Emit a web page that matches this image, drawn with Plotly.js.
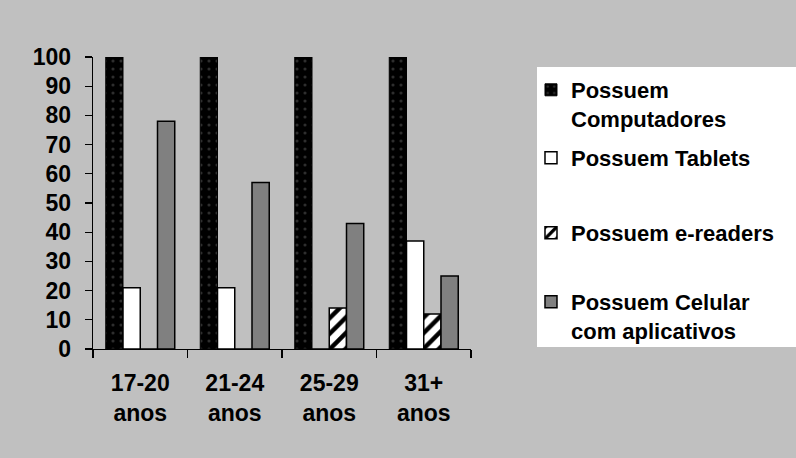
<!DOCTYPE html>
<html><head><meta charset="utf-8">
<script src="https://cdn.plot.ly/plotly-3.0.1.min.js"></script>
<style>html,body{margin:0;padding:0;background:#c0c0c0;}</style>
</head><body>
<div id="chart" style="width:796px;height:458px;"></div>
<script>
const categories = ["17-20<br>anos", "21-24<br>anos", "25-29<br>anos", "31+<br>anos"];
const computadores = [100, 100, 100, 100];
const tablets = [21, 21, 0, 37];
const ereaders = [0, 0, 14, 12];
const celular = [78, 57, 43, 25];
const seriesNames = ["Possuem<br>Computadores", "Possuem Tablets", "Possuem e-readers", "Possuem Celular<br>com aplicativos"];

const FONT = {family: "Liberation Sans, Arial, sans-serif", size: 23, color: "#000", weight: "bold"};
const LFONT = {family: "Liberation Sans, Arial, sans-serif", size: 22, color: "#000", weight: "bold"};

const traces = [
  {type: "bar", x: categories, y: computadores, name: seriesNames[0], legend: "legend",
   marker: {color: "#000", line: {color: "#000", width: 1}, pattern: {shape: ".", fgcolor: "#2e2e2e", bgcolor: "#000", size: 8, solidity: 0.12}}},
  {type: "bar", x: categories, y: tablets, name: seriesNames[1], legend: "legend2",
   marker: {color: "#fff", line: {color: "#000", width: 1.5}}},
  {type: "bar", x: categories, y: ereaders, name: seriesNames[2], legend: "legend3",
   marker: {color: "#fff", line: {color: "#000", width: 1.5}, pattern: {shape: "/", fgcolor: "#000", bgcolor: "#fff", size: 11, solidity: 0.4}}},
  {type: "bar", x: categories, y: celular, name: seriesNames[3], legend: "legend4",
   marker: {color: "#808080", line: {color: "#000", width: 1.5}}}
];

function lg(y, yanchor) {
  return {x: 1.1587, xanchor: "left", y: y, yanchor: yanchor, bgcolor: "rgba(0,0,0,0)", borderwidth: 0,
          font: LFONT, valign: "top", itemclick: false, itemdoubleclick: false};
}

const layout = {
  width: 796, height: 458,
  margin: {l: 93, r: 325, t: 57, b: 109, pad: 0},
  paper_bgcolor: "#c0c0c0", plot_bgcolor: "#c0c0c0",
  font: FONT,
  barmode: "group", bargap: 0.27, bargroupgap: 0,
  xaxis: {type: "category", range: [-0.5, 3.5], showline: true, linecolor: "#000", linewidth: 1.3,
          ticks: "outside", tickson: "boundaries", ticklen: 8, tickwidth: 1.3, tickcolor: "#000",
          ticklabelstandoff: 13,
          showgrid: false, zeroline: false, tickfont: FONT, fixedrange: true},
  yaxis: {range: [0, 100], dtick: 10, tick0: 0, showline: true, linecolor: "#000", linewidth: 1.3,
          ticks: "outside", ticklen: 7, tickwidth: 1.3, tickcolor: "#000",
          ticklabelstandoff: 9,
          showgrid: false, zeroline: false, tickfont: FONT, fixedrange: true},
  showlegend: true,
  legend: lg(0.8373, "middle"),
  legend2: lg(0.6541, "middle"),
  legend3: lg(0.3973, "middle"),
  legend4: lg(0.1113, "middle"),
  shapes: [{type: "rect", xref: "paper", yref: "paper", x0: 1.1746, x1: 1.87, y0: 0.00685, y1: 0.9658,
            fillcolor: "#fff", line: {width: 0}, layer: "below"}]
};

Plotly.newPlot("chart", traces, layout, {displayModeBar: false, staticPlot: true});
</script>
</body></html>
